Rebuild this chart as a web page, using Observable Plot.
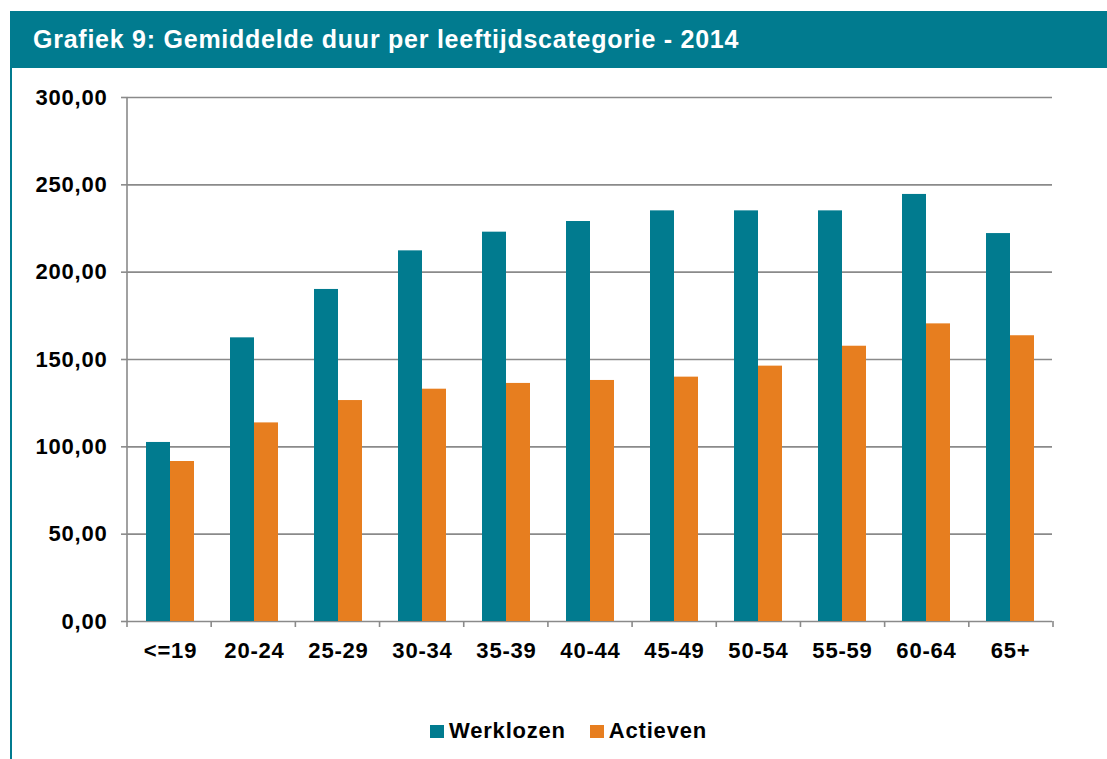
<!DOCTYPE html>
<html>
<head>
<meta charset="utf-8">
<script src="https://cdn.jsdelivr.net/npm/d3@7"></script>
<script src="https://cdn.jsdelivr.net/npm/@observablehq/plot@0.6"></script>
<style>
  html, body { margin: 0; padding: 0; background: #fff; }
  body { width: 1107px; height: 759px; overflow: hidden; font-family: "Liberation Sans", Arial, sans-serif; }
  .header { position: absolute; left: 10px; top: 11px; width: 1097px; height: 57px; background: #017B8F; color: #fff;
    font-weight: bold; font-size: 25px; letter-spacing: 0.75px; line-height: 57px; padding-left: 23px; box-sizing: border-box; }
  .body { position: absolute; left: 10px; top: 68px; width: 1097px; height: 691px; border-left: 2px solid #017B8F; box-sizing: border-box; }
  #chart { position: absolute; left: 0; top: 0; }
  .legend { position: absolute; left: 0; top: 650px; width: 1095px; display: flex; justify-content: center; align-items: center;
    font-weight: bold; font-size: 22px; letter-spacing: 0.8px; color: #000; padding-left: 18px; box-sizing: border-box; }
  .legend .item { display: flex; align-items: center; margin: 0 12px; }
  .legend .sw { width: 14px; height: 13px; margin-right: 5px; }
</style>
</head>
<body>
<div class="header">Grafiek 9: Gemiddelde duur per leeftijdscategorie - 2014</div>
<div class="body">
  <div id="chart"></div>
  <div class="legend" id="legend"></div>
</div>
<script>
const categories = ["<=19","20-24","25-29","30-34","35-39","40-44","45-49","50-54","55-59","60-64","65+"];
const series = ["Werklozen", "Actieven"];
const werklozen = [102.5, 162.4, 190.1, 212.2, 222.9, 229.0, 235.1, 235.1, 235.1, 244.5, 222.1];
const actieven  = [91.6, 113.7, 126.5, 133.0, 136.3, 138.0, 139.9, 146.2, 157.6, 170.4, 163.6];
const yTicks = [0, 50, 100, 150, 200, 250, 300];
const colors = ["#017B8F", "#E77E1F"];

const data = [];
categories.forEach((c, i) => {
  data.push({cat: c, series: series[0], value: werklozen[i]});
  data.push({cat: c, series: series[1], value: actieven[i]});
});

const W = 1095, H = 598, mt = 29, mb = 45, ml = 115, mr = 54;
const grid = "#8a8a8a";
const fmt = d => d.toFixed(2).replace(".", ",");
const NS = "http://www.w3.org/2000/svg";

const chart = Plot.plot({
  width: W,
  height: H,
  marginTop: mt,
  marginBottom: mb,
  marginLeft: ml,
  marginRight: mr,
  style: {fontFamily: "'Liberation Sans', Arial, sans-serif", background: "transparent", overflow: "visible"},
  fx: {domain: categories, padding: 0, label: null},
  x: {domain: series, paddingInner: 0, paddingOuter: 0.72, axis: null},
  y: {domain: [0, 300], label: null},
  color: {domain: series, range: colors},
  marks: [
    Plot.gridY(yTicks, {stroke: grid, strokeOpacity: 1, strokeWidth: 1.6}),
    Plot.barY(data, {fx: "cat", x: "series", y: "value", fill: "series"}),
    Plot.axisY(yTicks, {tickSize: 7, tickPadding: 14, tickFormat: fmt, stroke: grid, strokeWidth: 1.6,
      fontSize: 22, fontWeight: "bold", fill: "#000", label: null}),
    Plot.axisFx({anchor: "bottom", tickSize: 0, tickPadding: 21, fontSize: 22, fontWeight: "bold", fill: "#000", label: null})
  ]
});
document.getElementById("chart").appendChild(chart);
chart.querySelectorAll("text").forEach(t => t.style.letterSpacing = "0.8px");

// y-axis line and category boundary ticks, positioned from the plot's own fx and y scales
(function addAxisLines() {
  const fxd = chart.scale("fx"), yd = chart.scale("y");
  const fx = d3.scaleBand().domain(fxd.domain).range(fxd.range).paddingInner(fxd.paddingInner ?? 0).paddingOuter(fxd.paddingOuter ?? 0);
  const y = d3.scaleLinear().domain(yd.domain).range(yd.range);
  const bottom = y(0), top = y(300);
  const g = document.createElementNS(NS, "g");
  g.setAttribute("stroke", grid);
  g.setAttribute("stroke-width", 1.6);
  const line = (x1, y1, x2, y2) => {
    const l = document.createElementNS(NS, "line");
    l.setAttribute("x1", x1); l.setAttribute("x2", x2);
    l.setAttribute("y1", y1); l.setAttribute("y2", y2);
    g.appendChild(l);
  };
  const x0 = fx(categories[0]);
  line(x0, top, x0, bottom);
  const bounds = categories.map(c => fx(c));
  bounds.push(fx(categories[categories.length - 1]) + fx.bandwidth());
  bounds.forEach(x => line(x, bottom, x, bottom + 6));
  chart.appendChild(g);
})();

const legend = document.getElementById("legend");
series.forEach((s, i) => {
  const item = document.createElement("div");
  item.className = "item";
  const sw = document.createElement("div");
  sw.className = "sw";
  sw.style.background = colors[i];
  const lab = document.createElement("span");
  lab.textContent = s;
  item.appendChild(sw); item.appendChild(lab);
  legend.appendChild(item);
});
</script>
</body>
</html>
